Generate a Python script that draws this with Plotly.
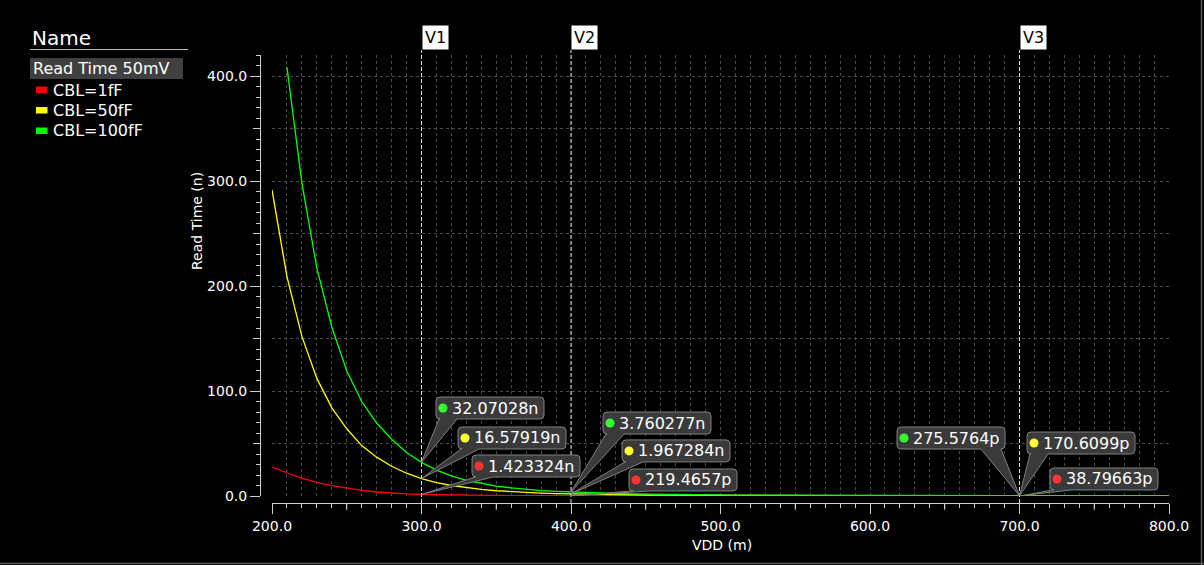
import plotly.graph_objects as go

# Sweep of supply voltage (mV) and read time (ns) for three bit-line capacitances
vdd = list(range(200, 801, 10))

read_1ff = [27.6, 21.9, 17.1, 13.0, 9.8, 7.3, 5.3, 3.8, 2.75, 2.0,
            1.423324, 1.13, 0.91, 0.74, 0.61, 0.50, 0.42, 0.35, 0.30, 0.255,
            0.2194657, 0.19, 0.167, 0.148, 0.132, 0.118, 0.106, 0.096, 0.088, 0.081,
            0.075, 0.069, 0.064, 0.060, 0.057, 0.054, 0.051, 0.049, 0.047, 0.045,
            0.044, 0.043, 0.042, 0.041, 0.0405, 0.040, 0.0397, 0.0394, 0.0391, 0.0389,
            0.03879663, 0.0386, 0.0384, 0.0382, 0.0380, 0.0378, 0.0377, 0.0376, 0.0375, 0.0374,
            0.0373]

read_50ff = [291.5, 209, 152, 112, 84, 64, 48, 37, 28.3, 21.7,
             16.57919, 12.8, 10.0, 7.9, 6.25, 5.0, 4.05, 3.3, 2.75, 2.3,
             1.967284, 1.68, 1.44, 1.24, 1.08, 0.95, 0.84, 0.745, 0.665, 0.595,
             0.535, 0.485, 0.44, 0.40, 0.365, 0.335, 0.31, 0.285, 0.265, 0.247,
             0.232, 0.219, 0.208, 0.199, 0.192, 0.186, 0.181, 0.177, 0.174, 0.172,
             0.1706099, 0.168, 0.166, 0.164, 0.162, 0.160, 0.158, 0.157, 0.155, 0.154,
             0.153]

read_100ff = [None, 408.5, 298, 217, 161, 119, 90, 69.5, 54, 41.5,
              32.07028, 24.6, 19.1, 15.0, 11.9, 9.5, 7.7, 6.3, 5.2, 4.4,
              3.760277, 3.2, 2.75, 2.38, 2.07, 1.81, 1.59, 1.41, 1.25, 1.12,
              1.0, 0.91, 0.83, 0.76, 0.70, 0.645, 0.595, 0.55, 0.51, 0.475,
              0.445, 0.415, 0.39, 0.365, 0.345, 0.33, 0.315, 0.30, 0.29, 0.282,
              0.2755764, 0.27, 0.265, 0.26, 0.255, 0.25, 0.246, 0.242, 0.238, 0.235,
              0.232]

series_names = ["CBL=1fF", "CBL=50fF", "CBL=100fF"]
series_values = [read_1ff, read_50ff, read_100ff]
series_colors = ["#ff0000", "#ffff00", "#00ff00"]
dot_colors = ["#ff3333", "#ffff33", "#33ff33"]

group_title = "Read Time 50mV"
marker_names = ["V1", "V2", "V3"]
marker_vdd = [300, 400, 700]

x_ticks = [200, 300, 400, 500, 600, 700, 800]
y_ticks = [0, 100, 200, 300, 400]

FONT = "DejaVu Sans"
W, H = 1204, 565
ML, MR, MT, MB = 260, 35, 55, 62
PW = W - ML - MR
PH = H - MT - MB


def px(xabs):
    return (xabs - ML) / PW


def py(yabs):
    return (H - MB - yabs) / PH


def value_label(v_ns):
    if v_ns >= 1:
        return f"{v_ns:.7g}n"
    return f"{v_ns * 1000:.7g}p"


fig = go.Figure()

for name, vals, col in zip(series_names, series_values, series_colors):
    fig.add_trace(go.Scatter(x=vdd, y=vals, mode="lines", name=name,
                             line=dict(color=col, width=1.3), showlegend=False,
                             hoverinfo="skip"))

grid_col = "#4a4a4a"
axis_col = "#d0d0d0"

fig.update_layout(
    width=W, height=H,
    margin=dict(l=ML, r=MR, t=MT, b=MB, pad=0),
    paper_bgcolor="#000000", plot_bgcolor="#000000",
    font=dict(family=FONT, color="#ffffff", size=14),
    xaxis=dict(range=[200, 800], domain=[12 / PW, 1], anchor="free", position=0,
               tickvals=x_ticks, tickformat=".1f", ticks="outside", ticklen=10,
               tickcolor=axis_col, showline=True, linecolor=axis_col, linewidth=1,
               showgrid=True, gridcolor=grid_col, griddash="dot", gridwidth=1,
               zeroline=False, tickfont=dict(size=14, color="#ffffff"),
               minor=dict(dtick=10, ticks="outside", ticklen=4, tickcolor=axis_col,
                          showgrid=True, gridcolor=grid_col, griddash="dot")),
    yaxis=dict(range=[0, 420], domain=[7 / PH, 1], anchor="free", position=0,
               tickvals=y_ticks, tickformat=".1f", ticks="outside", ticklen=10,
               tickcolor=axis_col, showline=True, linecolor=axis_col, linewidth=1,
               showgrid=True, gridcolor=grid_col, griddash="dot", gridwidth=1,
               zeroline=False, tickfont=dict(size=14, color="#ffffff"),
               minor=dict(dtick=10, ticks="outside", ticklen=4, tickcolor=axis_col,
                          showgrid=False)),
)

shapes = []
annotations = []

# Half-way grid lines and medium ticks
for v in range(50, 420, 100):
    shapes.append(dict(type="line", xref="paper", yref="y", x0=12 / PW, x1=1, y0=v, y1=v,
                       line=dict(color=grid_col, width=1, dash="dot"), layer="below"))
    shapes.append(dict(type="line", xref="paper", yref="y", x0=0, x1=-7 / PW, y0=v, y1=v,
                       line=dict(color=axis_col, width=1)))
for v in range(250, 800, 100):
    shapes.append(dict(type="line", xref="x", yref="paper", x0=v, x1=v, y0=0, y1=-7 / PH,
                       line=dict(color=axis_col, width=1)))

# Vertical markers
for name, xv in zip(marker_names, marker_vdd):
    shapes.append(dict(type="line", xref="x", yref="paper", x0=xv, x1=xv,
                       y0=0, y1=1 + 5 / PH,
                       line=dict(color="#e0e0e0", width=1, dash="4px,2px")))
    annotations.append(dict(x=xv, y=1 + 5 / PH, xref="x", yref="paper",
                            xanchor="left", yanchor="bottom", text=name, showarrow=False,
                            bgcolor="#ffffff", borderpad=2,
                            font=dict(family=FONT, size=16, color="#000000")))

# Callout placement: dot offset (screen px from the point) and wedge side
callout_layout = {
    (0, 2): (21.5, -54.3, "left"),
    (0, 1): (43.5, -40.6, "left"),
    (0, 0): (57.5, -28.5, "left"),
    (1, 2): (39, -69, "left"),
    (1, 1): (58, -43, "left"),
    (1, 0): (65, -15.8, "left"),
    (2, 2): (-115.5, -57.7, "right"),
    (2, 1): (14.5, -52.8, "left"),
    (2, 0): (37.5, -17, "left"),
}


def pt(x, y):
    return f"{x:.1f},{-y:.1f}"


def callout_path(l, t, r, b, b1, b2, rad=4):
    return ("M" + pt(0, 0) + " L" + pt(b1, b) + " L" + pt(l + rad, b) +
            " Q" + pt(l, b) + " " + pt(l, b - rad) + " L" + pt(l, t + rad) +
            " Q" + pt(l, t) + " " + pt(l + rad, t) + " L" + pt(r - rad, t) +
            " Q" + pt(r, t) + " " + pt(r, t + rad) + " L" + pt(r, b - rad) +
            " Q" + pt(r, b) + " " + pt(r - rad, b) + " L" + pt(b2, b) + " Z")


for mi, xv in enumerate(marker_vdd):
    idx = vdd.index(xv)
    for si in range(3):
        yv = series_values[si][idx]
        ddx, ddy, side = callout_layout[(mi, si)]
        left, right = ddx - 7, ddx + 101
        top, bottom = ddy - 11, ddy + 11
        if side == "left":
            b1, b2 = left + 3, left + 21
        else:
            b1, b2 = right - 24, right - 4
        shapes.append(dict(type="path", xref="x", yref="y", xsizemode="pixel",
                           ysizemode="pixel", xanchor=xv, yanchor=yv,
                           path=callout_path(left, top, right, bottom, b1, b2),
                           fillcolor="#3a3a3a", line=dict(color="#808080", width=1)))
        shapes.append(dict(type="circle", xref="x", yref="y", xsizemode="pixel",
                           ysizemode="pixel", xanchor=xv, yanchor=yv,
                           x0=ddx - 4.5, x1=ddx + 4.5, y0=-ddy - 4.5, y1=-ddy + 4.5,
                           fillcolor=dot_colors[si], line=dict(width=0)))
        annotations.append(dict(x=xv, y=yv, xref="x", yref="y", xanchor="left",
                                yanchor="middle", xshift=ddx + 7, yshift=-ddy,
                                text=value_label(yv), showarrow=False,
                                font=dict(family=FONT, size=16, color="#ffffff")))

# Axis titles
annotations.append(dict(x=px(722), y=py(545), xref="paper", yref="paper",
                        text="VDD (m)", showarrow=False, xanchor="center", yanchor="middle",
                        font=dict(family=FONT, size=14, color="#ffffff")))
annotations.append(dict(x=px(197), y=py(221), xref="paper", yref="paper",
                        text="Read Time (n)", showarrow=False, textangle=-90,
                        xanchor="center", yanchor="middle",
                        font=dict(family=FONT, size=14, color="#ffffff")))

# Legend panel
annotations.append(dict(x=px(30), y=py(38), xref="paper", yref="paper", text="Name",
                        showarrow=False, xanchor="left", yanchor="middle",
                        font=dict(family=FONT, size=20, color="#ffffff")))
shapes.append(dict(type="line", xref="paper", yref="paper", x0=px(30), x1=px(188),
                   y0=py(49.5), y1=py(49.5), line=dict(color="#bdbdbd", width=1)))
shapes.append(dict(type="rect", xref="paper", yref="paper", x0=px(30), x1=px(183),
                   y0=py(58), y1=py(79), fillcolor="#404040", line=dict(width=0)))
annotations.append(dict(x=px(31), y=py(68.5), xref="paper", yref="paper", text=group_title,
                        showarrow=False, xanchor="left", yanchor="middle",
                        font=dict(family=FONT, size=16, color="#ffffff")))
for i, (name, col) in enumerate(zip(series_names, series_colors)):
    yc = 90 + 20.5 * i
    shapes.append(dict(type="rect", xref="paper", yref="paper", x0=px(36), x1=px(47.5),
                       y0=py(yc - 3.5), y1=py(yc + 3), fillcolor=col, line=dict(width=0)))
    annotations.append(dict(x=px(51), y=py(yc), xref="paper", yref="paper", text=name,
                            showarrow=False, xanchor="left", yanchor="middle",
                            font=dict(family=FONT, size=16, color="#ffffff")))

# Window frame
shapes.append(dict(type="line", xref="paper", yref="paper", x0=px(1201.5), x1=px(1201.5),
                   y0=py(0), y1=py(565), line=dict(color="#5a5a5a", width=1.5)))
shapes.append(dict(type="line", xref="paper", yref="paper", x0=px(0), x1=px(1204),
                   y0=py(563.5), y1=py(563.5), line=dict(color="#5a5a5a", width=1.5)))

fig.update_layout(shapes=shapes, annotations=annotations)

fig.write_html("out.html")
